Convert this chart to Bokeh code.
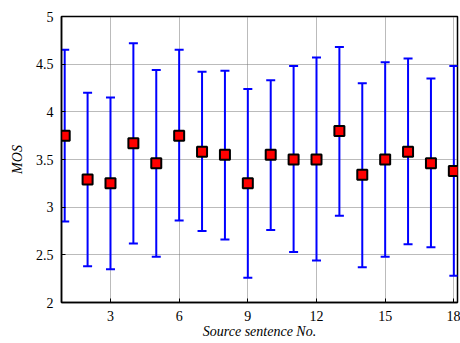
from bokeh.plotting import figure
from bokeh.models import ColumnDataSource, Whisker, TeeHead, FixedTicker, Range1d
from bokeh.embed import file_html
from bokeh.resources import INLINE

sentences = list(range(1, 19))
mos_mean = [3.75, 3.29, 3.25, 3.67, 3.46, 3.75, 3.58, 3.55, 3.25,
            3.55, 3.50, 3.50, 3.80, 3.34, 3.50, 3.58, 3.46, 3.38]
mos_upper = [4.65, 4.20, 4.15, 4.72, 4.44, 4.65, 4.42, 4.43, 4.24,
             4.33, 4.48, 4.57, 4.68, 4.30, 4.52, 4.56, 4.35, 4.48]
mos_lower = [2.85, 2.38, 2.35, 2.62, 2.48, 2.86, 2.75, 2.66, 2.26,
             2.76, 2.53, 2.44, 2.91, 2.37, 2.48, 2.61, 2.58, 2.28]
x_ticks = [3, 6, 9, 12, 15, 18]
y_ticks = [2, 2.5, 3, 3.5, 4, 4.5, 5]

src = ColumnDataSource(dict(x=sentences, y=mos_mean, upper=mos_upper, lower=mos_lower))

p = figure(width=460, height=343, output_backend="svg", toolbar_location=None,
           x_range=Range1d(0.86, 18.16), y_range=Range1d(2, 5),
           min_border_left=61, min_border_right=3, min_border_top=16, min_border_bottom=41)
p.background_fill_color = "white"
p.border_fill_color = "white"
p.outline_line_color = "black"
p.outline_line_width = 1.5

font = "Liberation Serif"
for ax in (p.xaxis[0], p.yaxis[0]):
    ax.axis_line_color = "black"
    ax.axis_line_width = 1.5
    ax.major_tick_in = 4
    ax.major_tick_out = 0
    ax.minor_tick_line_color = None
    ax.major_label_text_font = font
    ax.major_label_text_font_size = "14px"
    ax.major_label_text_color = "black"
    ax.axis_label_text_font = font
    ax.axis_label_text_font_style = "italic"
    ax.axis_label_text_font_size = "14px"
    ax.axis_label_text_color = "black"

p.xaxis.ticker = FixedTicker(ticks=x_ticks)
p.yaxis.ticker = FixedTicker(ticks=y_ticks)
p.xaxis.axis_label = "Source sentence No."
p.yaxis.axis_label = "MOS"
p.xaxis.major_label_standoff = 8
p.yaxis.major_label_standoff = 8
p.xaxis.axis_label_standoff = 0
p.yaxis.axis_label_standoff = 8

for g in (p.xgrid[0], p.ygrid[0]):
    g.grid_line_color = "#777777"
    g.grid_line_dash = "1 1"
    g.grid_line_width = 1

w = Whisker(source=src, base="x", upper="upper", lower="lower",
            line_color="#0000ff", line_width=2,
            upper_head=TeeHead(size=9, line_color="#0000ff", line_width=2),
            lower_head=TeeHead(size=9, line_color="#0000ff", line_width=2))
p.add_layout(w)

p.scatter("x", "y", source=src, marker="square", size=10,
          fill_color="#ff0000", line_color="black", line_width=2)

open("out.html", "w").write(file_html(p, INLINE))
